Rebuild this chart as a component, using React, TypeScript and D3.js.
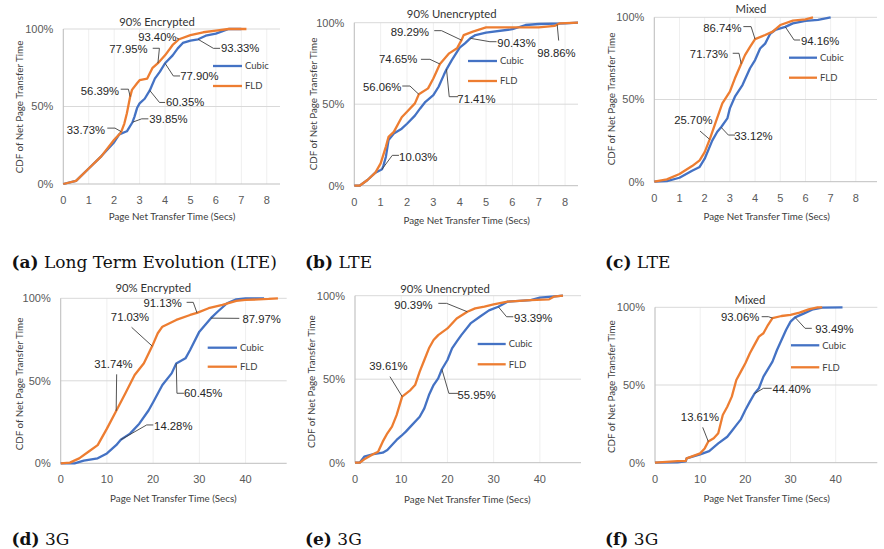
import React from "react";
import * as d3 from "d3";

// ---- series names and colours ----
const SERIES = ["Cubic", "FLD"];
const COLORS = ["#4472C4", "#ED7D31"];

// ---- axis ticks ----
const lteTicks = [0, 1, 2, 3, 4, 5, 6, 7, 8];
const g3Ticks = [0, 10, 20, 30, 40];
const pctTicks = [0, 50, 100];

// ---- CDF points: [seconds, cumulative %] ----
const lteEncCubic = [[0,0],[0.5,2],[1,10],[1.5,18],[2,27],[2.2,32],[2.5,34],[2.72,39.85],[2.8,43.5],[2.9,49],[3,52],[3.2,55],[3.4,60.35],[3.6,68],[3.8,72.5],[4,77.9],[4.3,83],[4.5,87.5],[4.7,91],[5,92.5],[5.3,93.33],[5.6,95.7],[6,97],[6.5,100],[7,100]];
const lteEncFld = [[0,0],[0.5,2],[1,10],[1.5,18],[2,28.5],[2.2,32],[2.28,33.73],[2.4,39],[2.5,45.7],[2.63,56.39],[2.7,60.7],[2.9,65],[3,67],[3.3,68],[3.5,74.7],[3.72,77.95],[4,83],[4.3,89.7],[4.55,93.4],[5,96],[5.5,97.9],[6,99],[6.5,100],[7.2,100]];

const lteUnencCubic = [[0,0],[0.2,0],[0.5,3.5],[0.8,8],[1,9.6],[1.05,10.03],[1.1,12],[1.2,17.8],[1.3,28],[1.5,32],[1.8,35],[2,38],[2.3,43],[2.5,47.4],[2.7,51.5],[3,55.6],[3.2,60.7],[3.4,68],[3.5,71.41],[3.7,77],[4,84.7],[4.2,87.3],[4.4,90.43],[4.6,92.4],[5,93.9],[6,96],[6.5,98.6],[7,99.2],[8,99.6],[8.49,100]];
const lteUnencFld = [[0,0],[0.2,0],[0.5,3.5],[0.8,8],[1,13.7],[1.2,24],[1.3,30],[1.5,33],[1.8,42],[2,45.4],[2.3,50.5],[2.45,56.06],[2.8,59.7],[3,65.8],[3.25,74.65],[3.6,81.2],[3.9,84.3],[4,87.3],[4.07,89.29],[4.15,92.4],[4.5,94.5],[5,97.1],[6,97.1],[7,97.1],[7.6,98],[7.7,98.86],[7.8,99.6],[8.49,100]];

const lteMixCubic = [[0,0],[0.5,0.4],[1,2.4],[1.5,6.7],[1.8,9],[2,14],[2.3,25],[2.5,30.4],[2.65,33.12],[2.9,38.5],[3,44.6],[3.2,51.7],[3.5,58.8],[3.8,69],[4,74],[4.2,81],[4.4,84],[4.6,90],[4.8,92.3],[5,93.3],[5.2,94.16],[5.5,96.3],[6,97.8],[6.5,98.4],[7,100]];
const lteMixFld = [[0,0],[0.5,1.4],[1,4.7],[1.5,9.5],[1.8,13],[2,18],[2.2,25.7],[2.4,34.5],[2.7,47.7],[3,54.8],[3.2,62.9],[3.45,71.73],[3.6,77],[3.8,82],[4,86.74],[4.4,89.2],[4.7,91.3],[5,95.3],[5.5,98],[6,98.8],[6.3,100]];

const g3EncCubic = [[0,0],[3,0],[5,1.6],[8,3],[10,6],[12,11],[13,14.28],[15,18],[17,24],[19,32],[20,37],[22,47.5],[24,54.5],[25,60.45],[27,63.6],[28,68.7],[30,79.8],[32.5,87.97],[34,92],[36,97],[38,99.4],[40,100],[44,100]];
const g3EncFld = [[0,0],[2,0.4],[4,3],[6,7],[8,11],[10,21],[12,31.74],[14,42.4],[16,53.5],[18,60.6],[19.8,71.03],[21,78.8],[22,82.8],[25,86.9],[28,89.9],[29.5,91.13],[32,94],[35,96],[38,98.4],[40,99],[45,99.6],[47,100]];

const g3UnencCubic = [[0,0],[1,0],[2,3.6],[4,5.2],[6,6],[7,7.6],[8,10.6],[9,13.6],[10,16],[11,18.6],[12,21.6],[14,27.5],[15,32.5],[16,40.5],[17,46.5],[18,50.5],[18.8,55.95],[20,61.5],[21,68.5],[22,72.5],[23,76.4],[25,83.4],[27,87.4],[29,91.2],[31,93.39],[33,96.4],[38,97.4],[40,98.8],[45,100]];
const g3UnencFld = [[0,0],[1,0],[2,2],[4,5.2],[5,6.6],[6,12.6],[7,17.6],[8,21.6],[9,28.5],[10.2,39.61],[12,43.5],[13,46.5],[14,54.5],[15,61.5],[16,68.5],[17,73.5],[18,76.4],[20,80.4],[22,86.4],[24.3,90.39],[26,92.4],[28,93.4],[30,94.8],[33,96.4],[38,97.4],[42,97.8],[43,99.4],[45,100]];

const g3MixCubic = [[0,0],[5,0.2],[6.8,0.8],[7,2.8],[10,5.4],[12,7.5],[14,12.4],[16,16.7],[17,20.4],[18,24.2],[19,27.9],[20,33.9],[21,39.3],[22,44.4],[23,47.9],[24,55.4],[26,65],[27,72.5],[28,79],[29,85.4],[30,90.8],[31,93.49],[33,96.1],[35,98.7],[37,99.8],[41.5,100]];
const g3MixFld = [[0,0],[5,1],[6.8,1.2],[7,2.8],[10,6],[11,9.2],[11.8,13.61],[13,15.7],[14,18.9],[15,30.7],[16,36],[17,42.5],[18,53.2],[19,58.6],[20,64],[21,70.4],[22,75.8],[23,81.1],[24,83.3],[25,88.6],[26,93.06],[28,94.4],[30,95.1],[32,96.6],[34,98.7],[36,100],[37,100]];

// ---- labelled points: series index, seconds, cumulative % ----
const lteEncNotes = [[1,4.55,93.4],[1,3.72,77.95],[0,5.3,93.33],[0,4,77.9],[1,2.63,56.39],[0,3.4,60.35],[1,2.28,33.73],[0,2.72,39.85]];
const lteUnencNotes = [[1,4.07,89.29],[0,4.4,90.43],[1,7.7,98.86],[1,3.25,74.65],[1,2.45,56.06],[0,3.5,71.41],[0,1.05,10.03]];
const lteMixNotes = [[1,4,86.74],[0,5.2,94.16],[1,3.45,71.73],[1,2.2,25.7],[0,2.65,33.12]];
const g3EncNotes = [[1,29.5,91.13],[0,32.5,87.97],[1,19.8,71.03],[1,12,31.74],[0,25,60.45],[0,13,14.28]];
const g3UnencNotes = [[1,24.3,90.39],[0,31,93.39],[1,10.2,39.61],[0,18.8,55.95]];
const g3MixNotes = [[1,26,93.06],[0,31,93.49],[1,11.8,13.61],[0,22,44.4]];

// ---- captions ----
const CAPTION_TAGS = ["(a)", "(b)", "(c)", "(d)", "(e)", "(f)"];
const CAPTION_TEXT = ["Long Term Evolution (LTE)", "LTE", "LTE", "3G", "3G", "3G"];
const TITLES = ["90% Encrypted", "90% Unencrypted", "Mixed", "90% Encrypted", "90% Unencrypted", "Mixed"];

// label placement: text centre offset [dx,dy] and leader bends, relative to the point
type NoteLayout = { t: number[]; l: number[][] };

const PANELS = [
  {
    cubic: lteEncCubic, fld: lteEncFld, notes: lteEncNotes, ticks: lteTicks,
    L: 63.3, R: 280, T: 29, B: 184, xmax: 8.52,
    titleX: 157, titleY: 22, ylabX: 20, ylabY: 107, xlabX: 172, xlabY: 217,
    legX1: 213, legX2: 242, legY1: 66, legY2: 86,
    layout: [
      { t: [-21.7, -2], l: [[-2.5, -1.5]] },
      { t: [-29.5, -14.3], l: [[-5.2, -14.9], [1.5, -14.9]] },
      { t: [42, 9], l: [[22, 9], [15.3, 9]] },
      { t: [34.3, 12.7], l: [[15, 12.7], [8.3, 12.7]] },
      { t: [-30.2, -6], l: [[-9.5, -7.4], [-1.8, -7.4]] },
      { t: [35.3, 12], l: [[15.3, 12], [9.7, 12]] },
      { t: [-35.3, -2], l: [[-14, -3.6], [-6.3, -3.6]] },
      { t: [35.9, -3.4], l: [[15.9, -3.4], [9.2, -3.4]] },
    ] as NoteLayout[],
  },
  {
    cubic: lteUnencCubic, fld: lteUnencFld, notes: lteUnencNotes, ticks: lteTicks,
    L: 354.3, R: 578, T: 22.7, B: 185.7, xmax: 8.49,
    titleX: 451.7, titleY: 14, ylabX: 313.3, ylabY: 104, xlabX: 466.7, xlabY: 220.7,
    legX1: 468, legX2: 497, legY1: 61, legY2: 81,
    layout: [
      { t: [-51.7, -8.5], l: [[-27.3, -9.5], [-20, -9.5]] },
      { t: [46.3, 4.4], l: [[26.3, 3.4], [19.7, 3.4]] },
      { t: [-0.7, 28.1], l: [[1.5, 16]] },
      { t: [-41.7, -4.7], l: [[-19, -4.7], [-10, -4.7]] },
      { t: [-36.6, -7], l: [[-16.6, -8.3], [-8.9, -8.3]] },
      { t: [30, 29.7], l: [[11.7, 27.4], [2.7, 27.4]] },
      { t: [36.3, -12.7], l: [[17, -14], [10.3, -14]] },
    ] as NoteLayout[],
  },
  {
    cubic: lteMixCubic, fld: lteMixFld, notes: lteMixNotes, ticks: lteTicks,
    L: 654.3, R: 877, T: 17.3, B: 181.7, xmax: 8.84,
    titleX: 751, titleY: 9, ylabX: 611.7, ylabY: 99, xlabX: 766.7, xlabY: 216.7,
    legX1: 789, legX2: 817, legY1: 57.7, legY2: 77.7,
    layout: [
      { t: [-32.7, -11.5], l: [[-11.7, -12.5], [-4, -12.5]] },
      { t: [34.8, 14], l: [[14.8, 13.1], [8.8, 13.1]] },
      { t: [-32.2, -9.5], l: [[-8.5, -10.5], [-2.2, -10.5]] },
      { t: [-16.4, -19.4], l: [[-9.7, -8.4]] },
      { t: [32.3, 8.8], l: [[14, 7.8], [7.3, 7.8]] },
    ] as NoteLayout[],
  },
  {
    cubic: g3EncCubic, fld: g3EncFld, notes: g3EncNotes, ticks: g3Ticks,
    L: 60.7, R: 286.7, T: 298.3, B: 463.3, xmax: 48.9,
    titleX: 153.3, titleY: 288.3, ylabX: 20, ylabY: 384, xlabX: 173.3, xlabY: 498.3,
    legX1: 207.7, legX2: 237, legY1: 347.7, legY2: 366.7,
    layout: [
      { t: [-34.4, -9.6], l: [[-10.4, -10.6], [-3.8, -10.6]] },
      { t: [50.7, 0.8], l: [[28.4, 0.2]] },
      { t: [-22.2, -28.8], l: [[-20.6, -18.8]] },
      { t: [-2.8, -47], l: [[0.5, -36.6]] },
      { t: [27, 29.7], l: [[7.7, 29.7], [0.7, 29.7]] },
      { t: [52.5, -14], l: [[32.5, -14.8], [25.9, -14.8]] },
    ] as NoteLayout[],
  },
  {
    cubic: g3UnencCubic, fld: g3UnencFld, notes: g3UnencNotes, ticks: g3Ticks,
    L: 355, R: 581, T: 295.7, B: 462.7, xmax: 48.9,
    titleX: 445, titleY: 289, ylabX: 311.7, ylabY: 381.7, xlabX: 467.3, xlabY: 499.3,
    legX1: 477.7, legX2: 505.7, legY1: 344, legY2: 364.3,
    layout: [
      { t: [-54, -6.7], l: [[-29, -8.4], [-20.7, -8.4]] },
      { t: [35, 11], l: [[15, 10], [8.3, 10]] },
      { t: [-13.8, -30.5], l: [[-12.2, -19.9]] },
      { t: [34.7, 25.8], l: [[16.4, 24.1], [7, 24.1]] },
    ] as NoteLayout[],
  },
  {
    cubic: g3MixCubic, fld: g3MixFld, notes: g3MixNotes, ticks: g3Ticks,
    L: 655, R: 877.3, T: 307.3, B: 462.7, xmax: 49.2,
    titleX: 750, titleY: 300, ylabX: 611.7, ylabY: 386.7, xlabX: 766.7, xlabY: 498.3,
    legX1: 791, legX2: 819.3, legY1: 345.3, legY2: 367.3,
    layout: [
      { t: [-32.4, -1.4], l: [[-10.8, -1.4], [-4.1, -1.4]] },
      { t: [39.3, 11.9], l: [[16.7, 10.9], [10, 10.9]] },
      { t: [-8.3, -24.9], l: [[-5.6, -14.2]] },
      { t: [37.3, -4.7], l: [[17.3, -5.4], [9, -5.4]] },
    ] as NoteLayout[],
  },
];

const CAPTION_POS = [[11.5, 267.5], [305, 267.5], [605, 267.5], [11.5, 545], [305, 545], [605, 545]];

const LABEL_FONT = "Lato, 'Open Sans', sans-serif";
const NUM_FONT = "'Liberation Sans', Arial, sans-serif";

function Panel({ p, title }: { p: (typeof PANELS)[number]; title: string }) {
  const x = d3.scaleLinear().domain([0, p.xmax]).range([p.L, p.R]);
  const y = d3.scaleLinear().domain([0, 100]).range([p.B, p.T]);
  const line = d3
    .line<number[]>()
    .x((d) => x(d[0]))
    .y((d) => y(d[1]));
  const data = [p.cubic, p.fld];
  return (
    <g>
      {/* vertical grid */}
      {p.ticks.map((t) => (
        <line key={"vg" + t} x1={x(t)} x2={x(t)} y1={p.T} y2={p.B} stroke="#efefef" strokeWidth={1} />
      ))}
      {/* horizontal grid */}
      {pctTicks.filter((t) => t > 0).map((t) => (
        <line key={"hg" + t} x1={p.L} x2={p.R} y1={y(t)} y2={y(t)} stroke="#d9d9d9" strokeWidth={1} />
      ))}
      <line x1={p.L} x2={p.L} y1={p.T} y2={p.B} stroke="#bfbfbf" strokeWidth={1} />
      <line x1={p.L} x2={p.R} y1={p.B} y2={p.B} stroke="#bfbfbf" strokeWidth={1} />
      {/* tick labels */}
      {pctTicks.map((t) => (
        <text key={"yt" + t} x={p.L - 10} y={y(t)} dy="0.35em" textAnchor="end" fontFamily={NUM_FONT} fontSize={11} fill="#595959">
          {t + "%"}
        </text>
      ))}
      {p.ticks.map((t) => (
        <text key={"xt" + t} x={x(t)} y={p.B + 16} dy="0.35em" textAnchor="middle" fontFamily={NUM_FONT} fontSize={11} fill="#595959">
          {t}
        </text>
      ))}
      {/* series */}
      {data.map((d, i) => (
        <path key={"s" + i} d={line(d) || ""} fill="none" stroke={COLORS[i]} strokeWidth={2.3} strokeLinejoin="round" />
      ))}
      {/* labelled points */}
      {p.notes.map((n, i) => {
        const px = x(n[1]);
        const py = y(n[2]);
        const lay = p.layout[i];
        const pts = [...lay.l.map((o) => [px + o[0], py + o[1]]), [px, py]];
        return (
          <g key={"n" + i}>
            <path d={d3.line()(pts as [number, number][]) || ""} fill="none" stroke="#404040" strokeWidth={0.9} />
            <text x={px + lay.t[0]} y={py + lay.t[1]} dy="0.35em" textAnchor="middle" fontFamily={NUM_FONT} fontSize={11.3} fill="#262626">
              {n[2].toFixed(2) + "%"}
            </text>
          </g>
        );
      })}
      {/* legend */}
      {[p.legY1, p.legY2].map((ly, i) => (
        <g key={"lg" + i}>
          <line x1={p.legX1} x2={p.legX2} y1={ly} y2={ly} stroke={COLORS[i]} strokeWidth={2.3} />
          <text x={p.legX2 + 3} y={ly} dy="0.35em" fontFamily={LABEL_FONT} fontSize={9.5} fill="#404040">
            {SERIES[i]}
          </text>
        </g>
      ))}
      {/* titles */}
      <text x={p.titleX} y={p.titleY} dy="0.35em" textAnchor="middle" fontFamily={LABEL_FONT} fontSize={11.3} fill="#333">
        {title}
      </text>
      <text
        transform={`translate(${p.ylabX},${p.ylabY}) rotate(-90)`}
        dy="0.35em"
        textAnchor="middle"
        fontFamily={LABEL_FONT}
        fontSize={9.8}
        fill="#404040"
      >
        CDF of Net Page Transfer Time
      </text>
      <text x={p.xlabX} y={p.xlabY} dy="0.35em" textAnchor="middle" fontFamily={LABEL_FONT} fontSize={9.8} fill="#404040">
        Page Net Transfer Time (Secs)
      </text>
    </g>
  );
}

export default function App() {
  return (
    <svg
      width={884}
      height={549}
      viewBox="0 0 884 549"
      style={{ position: "absolute", left: 0, top: 0, background: "#fff" }}
    >
      <rect width={884} height={549} fill="#fff" />
      {PANELS.map((p, i) => (
        <Panel key={i} p={p} title={TITLES[i]} />
      ))}
      {CAPTION_TAGS.map((tag, i) => (
        <text key={"c" + i} x={CAPTION_POS[i][0]} y={CAPTION_POS[i][1]} fontFamily="'DejaVu Serif', 'Liberation Serif', serif" fontSize={17} fill="#111">
          <tspan fontWeight="bold">{tag}</tspan>
          <tspan> {CAPTION_TEXT[i]}</tspan>
        </text>
      ))}
    </svg>
  );
}
